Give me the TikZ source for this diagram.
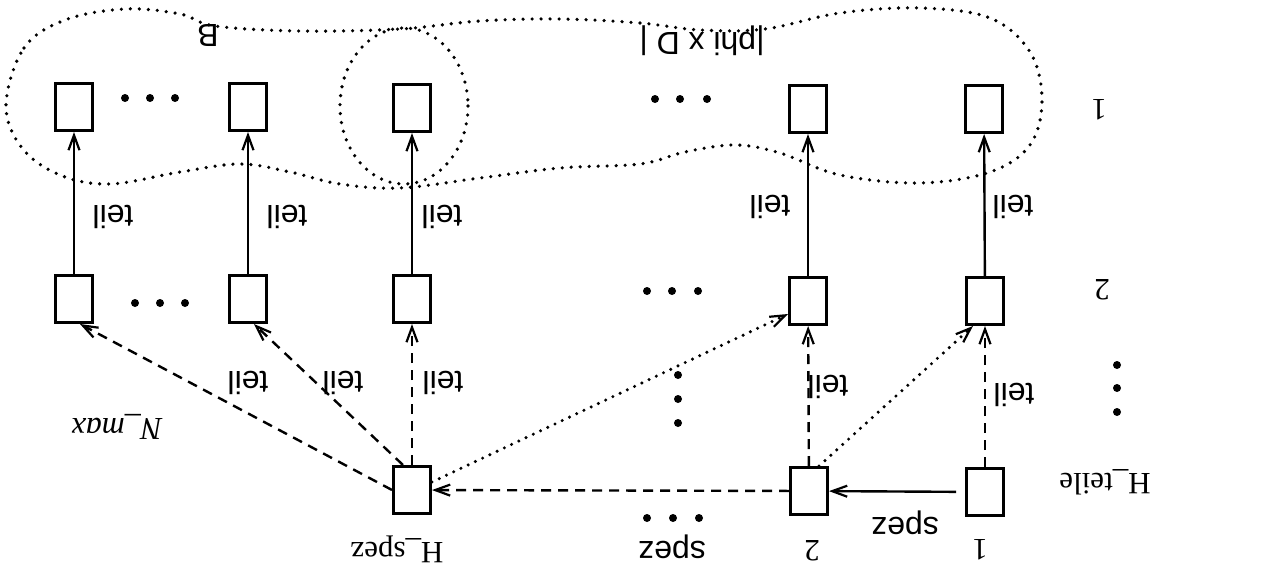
\documentclass[tikz,border=0pt]{standalone}
\usepackage{fontspec}
\setmainfont{Liberation Serif}
\setsansfont{Liberation Sans}
\usetikzlibrary{arrows.meta}
\begin{document}
\begin{tikzpicture}[x=1pt,y=-1pt,
  box/.style={draw,line width=3pt,minimum width=37pt,minimum height=47pt,inner sep=0pt},
  tip/.style={-{Straight Barb[length=15pt,width=11pt,line width=2.2pt]}},
  solidarr/.style={tip,line width=2.4pt},
  dasharr/.style={tip,line width=2.4pt,dash pattern=on 10pt off 7pt},
  dotarr/.style={tip,line width=3.4pt,line cap=round,dash pattern=on 0pt off 8pt},
  dotline/.style={line width=3.6pt,line cap=round,dash pattern=on 0pt off 9pt},
  sflab/.style={font=\sffamily\fontsize{32}{38}\selectfont,rotate=180,inner sep=0pt},
  rmlab/.style={font=\rmfamily\fontsize{31}{36}\selectfont,rotate=180,inner sep=0pt},
  itlab/.style={font=\rmfamily\itshape\fontsize{32}{36}\selectfont,rotate=180,inner sep=0pt},
  dot/.style={circle,fill,inner sep=0pt,minimum size=8pt}]
\useasboundingbox (0,0) rectangle (1287,586);

% level 1 boxes
\node[box] (tA) at (74,107) {};
\node[box] (tB) at (248,107) {};
\node[box] (tC) at (412,108) {};
\node[box] (tD) at (808,109) {};
\node[box] (tE) at (984,109) {};
% level 2 boxes
\node[box] (mA) at (74,299) {};
\node[box] (mB) at (248,299) {};
\node[box] (mC) at (412,299) {};
\node[box] (mD) at (808,301) {};
\node[box] (mE) at (985,301) {};
% specialisation boxes
\node[box] (bC) at (412,490) {};
\node[box] (bD) at (809,491) {};
\node[box] (bE) at (985,492) {};

% level 2 -> level 1
\foreach \c in {A,B,C,D,E} \draw[solidarr] (m\c) -- (t\c);
% specialisation -> level 2
\draw[dasharr] (bE) -- (mE);
\draw[dasharr] (bD) -- (mD);
\draw[dasharr] (bC) -- (mC);
\draw[dasharr] ([xshift=-9pt]bC.north) -- ([xshift=6pt]mB.south);
\draw[dasharr] (bC.west) -- ([xshift=6pt]mA.south);
\draw[dotarr] ([xshift=10pt]bD.north) -- ([xshift=-12pt]mE.south);
\draw[dotarr] ([yshift=8pt]bC.east) -- ([yshift=12pt]mD.south west);
% specialisation chain
\draw[solidarr,shorten <=9pt] (bE) -- (bD);
\draw[dasharr] (bD) -- (bC);

% dotted regions
\draw[dotline] plot[smooth cycle,tension=0.6] coordinates {
  (6,105) (24,48) (65,20) (125,9) (180,14) (215,26) (300,31) (400,29)
  (480,21) (560,19) (640,23) (700,30) (765,29) (840,13) (920,8) (990,18)
  (1030,52) (1042,100) (1030,145) (990,172) (920,183) (840,175) (780,153)
  (735,145) (685,152) (640,164) (560,168) (480,178) (400,188) (340,184)
  (290,172) (240,164) (180,172) (110,184) (60,175) (22,148)};
\draw[dotline] (404,106) ellipse [x radius=64, y radius=78];

% ellipses
\node[dot] (d1) at (125,98) {};\node[dot] (d2) at (150,98) {};\node[dot] (d3) at (175,98) {};
\node[dot] (d4) at (655,99) {};\node[dot] (d5) at (680,99) {};\node[dot] (d6) at (707,99) {};
\node[dot] (d7) at (135,303) {};\node[dot] (d8) at (160,303) {};\node[dot] (d9) at (185,303) {};
\node[dot] (d10) at (647,291) {};\node[dot] (d11) at (672,291) {};\node[dot] (d12) at (698,291) {};
\node[dot] (d13) at (647,518) {};\node[dot] (d14) at (673,518) {};\node[dot] (d15) at (699,518) {};
\node[dot] (d16) at (678,375) {};\node[dot] (d17) at (678,399) {};\node[dot] (d18) at (678,423) {};
\node[dot] (d19) at (1117,365) {};\node[dot] (d20) at (1117,388) {};\node[dot] (d21) at (1117,412) {};

% edge labels
\node[sflab] (l1) at (113,217) {teil};
\node[sflab] (l2) at (287,217) {teil};
\node[sflab] (l3) at (442,217) {teil};
\node[sflab] (l4) at (770,207) {teil};
\node[sflab] (l5) at (1013,207) {teil};
\node[sflab] (l6) at (248,383) {teil};
\node[sflab] (l7) at (343,383) {teil};
\node[sflab] (l8) at (443,383) {teil};
\node[sflab] (l9) at (828,387) {teil};
\node[sflab] (l10) at (1014,395) {teil};
\node[sflab] (l11) at (905,523) {spez};
\node[sflab] (l12) at (672,547) {spez};

% other labels
\node[rmlab] (n1) at (980,550) {1};
\node[rmlab] (n2) at (812,551) {2};
\node[rmlab] (hs) at (397,549) {H\_spez};
\node[rmlab] (ht) at (1105,482) {H\_teile};
\node[itlab] (nm) at (117,427) {N\_max};
\node[rmlab] (r1) at (1099,110) {1};
\node[rmlab] (r2) at (1102,290) {2};
\node[sflab] (lb) at (208,36) {B};
\node[sflab] (lp) at (702,41) {|phi x D |};
\end{tikzpicture}
\end{document}
